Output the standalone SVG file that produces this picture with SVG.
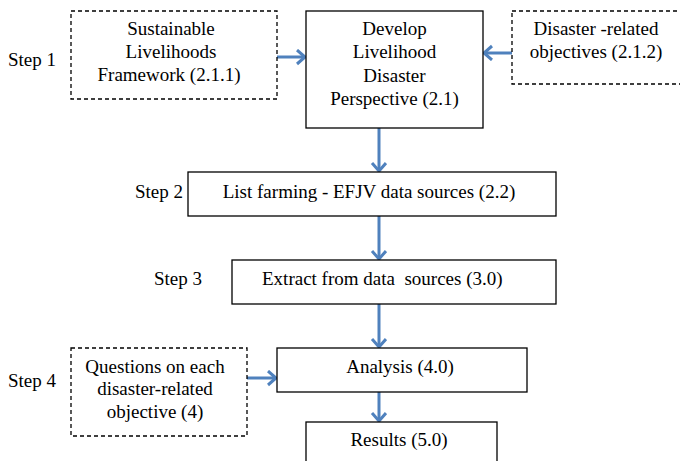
<svg xmlns="http://www.w3.org/2000/svg" width="680" height="461" viewBox="0 0 680 461">
<style>
text{font-family:"Liberation Serif","Times New Roman",serif;font-size:19px;fill:#000}
.c{text-anchor:middle}
.box{fill:#fff;stroke:#000;stroke-width:1.3}
.dash{fill:#fff;stroke:#000;stroke-width:1.3;stroke-dasharray:4,3}
.conn{stroke:#4f81bd;stroke-width:3;fill:none;marker-end:url(#ah)}
</style>
<defs>
<marker id="ah" markerUnits="userSpaceOnUse" markerWidth="14" markerHeight="18" refX="10" refY="8" orient="auto" viewBox="0 0 14 18">
<path d="M2,1 L10,8 L2,15" fill="none" stroke="#4f81bd" stroke-width="3"/>
</marker>
</defs>
<g id="labels">
<text x="8" y="66">Step 1</text>
<text x="135" y="198">Step 2</text>
<text x="154" y="285">Step 3</text>
<text x="8" y="387">Step 4</text>
</g>
<g id="connectors">
<line class="conn" x1="277" y1="57" x2="305" y2="57"/>
<line class="conn" x1="512" y1="53" x2="484" y2="53"/>
<line class="conn" x1="379" y1="128" x2="379" y2="171"/>
<line class="conn" x1="379" y1="216" x2="379" y2="259"/>
<line class="conn" x1="379" y1="304" x2="379" y2="347"/>
<line class="conn" x1="247" y1="378" x2="276" y2="378"/>
<line class="conn" x1="379" y1="392" x2="379" y2="421"/>
</g>
<g id="slf">
<rect class="dash" x="71" y="11" width="206" height="88"/>
<text class="c" x="171" y="35">Sustainable</text>
<text class="c" x="171" y="58">Livelihoods</text>
<text class="c" x="169" y="81">Framework (2.1.1)</text>
</g>
<g id="develop">
<rect class="box" x="306" y="11" width="177" height="117"/>
<text class="c" x="394.5" y="35">Develop</text>
<text class="c" x="394.5" y="58">Livelihood</text>
<text class="c" x="394.5" y="82">Disaster</text>
<text class="c" x="394.5" y="105">Perspective (2.1)</text>
</g>
<g id="objectives">
<rect class="dash" x="512" y="11" width="175" height="73"/>
<text class="c" x="596" y="35">Disaster -related</text>
<text class="c" x="596" y="58">objectives (2.1.2)</text>
</g>
<g id="list">
<rect class="box" x="188" y="172" width="368" height="44"/>
<text class="c" x="369" y="198">List farming - EFJV data sources (2.2)</text>
</g>
<g id="extract">
<rect class="box" x="232" y="260" width="324" height="44"/>
<text x="262" y="285" xml:space="preserve">Extract from data  sources (3.0)</text>
</g>
<g id="questions">
<rect class="dash" x="71" y="348" width="176" height="88"/>
<text class="c" x="155" y="373">Questions on each</text>
<text class="c" x="155" y="395">disaster-related</text>
<text class="c" x="155" y="418">objective (4)</text>
</g>
<g id="analysis">
<rect class="box" x="277" y="348" width="250" height="44"/>
<text class="c" x="400" y="373">Analysis (4.0)</text>
</g>
<g id="results">
<rect class="box" x="306" y="422" width="191" height="50"/>
<text class="c" x="399" y="446">Results (5.0)</text>
</g>
</svg>
